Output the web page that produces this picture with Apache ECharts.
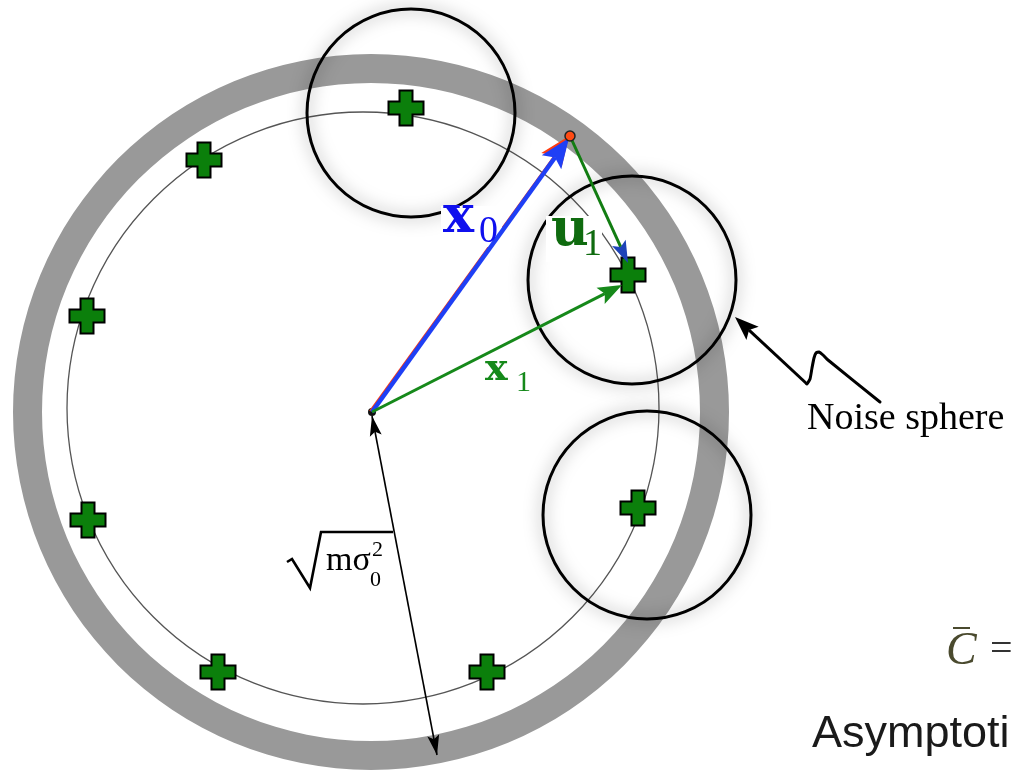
<!DOCTYPE html>
<html>
<head>
<meta charset="utf-8">
<script src="https://cdn.jsdelivr.net/npm/echarts@6/dist/echarts.min.js"></script>
<style>
  html, body { margin: 0; padding: 0; background: #fff; }
  #chart { width: 1012px; height: 773px; }
</style>
</head>
<body>
<div id="chart"></div>
<script>
// Plane with its origin at the transmitted signal point; x to the right, y upward, 1 unit = 1 px.

// Power shell: [cx, cy, inner radius, outer radius]
const powerShell = [[-1, 0, 329, 358]];
// Sphere on which the codewords lie: [cx, cy, r]
const codewordSphere = [[-9, 4, 296]];
// Noise spheres around three codewords: [cx, cy, r]
const noiseSpheres = [[39, 299, 104], [260, 132, 104], [275, -103, 104]];
// Codewords
const codewords = [[34, 304], [-168, 252], [-285, 96], [-284, -108], [-154, -260], [115, -260], [266, -96], [256, 137]];
// Received point
const receivedPoint = [[198, 276]];
// Vectors: [x start, y start, x end, y end]
const x0Vector = [0, 0, 197, 274];
const x0Shadow = [-2, 1, 197, 276];
const x1Vector = [0, 0, 250, 127];
const u1Vector = [198, 276, 256, 149];
const radiusVector = [0, -4, 65, -343];
// Pointer to a noise sphere (polyline with a wiggle)
const pointerPath = [[508, 10], [456, 52], [451, 57], [447, 60], [444, 59], [442, 54], [440, 44], [438, 33], [435, 28], [363, 95]];
// Radical sign of the radius label
const radicalPath = [[-85, -150], [-80, -147], [-62, -176], [-51, -120], [21, -120]];
// Bar over the capacity symbol
const barPath = [[581, -216], [598, -216]];

// Texts drawn on the figure
const labelTexts = ['x', '0', 'u', '1', 'x', '1', 'mσ', '0', '2', 'Noise sphere', 'C', '=', 'Asymptoti'];
// Where each text sits (left edge, vertical middle) and how it is set
const labelLayout = [
  { at: [71, 194],    font: 'bold 52px "DejaVu Serif"', fill: '#1010ee' },
  { at: [107, 180],   font: '38px "Liberation Serif"', fill: '#1010ee' },
  { at: [179, 181],   font: 'bold 52px "DejaVu Serif"', fill: '#0f6b0f' },
  { at: [211, 167],   font: '38px "Liberation Serif"', fill: '#0f6b0f' },
  { at: [113, 42],    font: 'bold 38px "DejaVu Serif"', fill: '#15891a' },
  { at: [144, 29],    font: '30px "Liberation Serif"', fill: '#15891a' },
  { at: [-46, -149],  font: '34px "Liberation Serif"', fill: '#000' },
  { at: [-2, -168.5], font: '22px "Liberation Serif"', fill: '#000' },
  { at: [0, -138.5],  font: '22px "Liberation Serif"', fill: '#000' },
  { at: [435, -7.4],  font: '38px "Liberation Serif"', fill: '#000' },
  { at: [574, -240],  font: 'italic 46px "Liberation Serif"', fill: '#4a4a2e' },
  { at: [618, -238],  font: '40px "Liberation Serif"', fill: '#333' },
  { at: [440, -322.7], font: '45px "Liberation Sans"', fill: '#1a1a1a' }
];
// White patches behind the vector names: [x left, y top, x right, y bottom]
const labelPatches = [[69, 206, 130, 165], [174, 196, 230, 150]];

const chart = echarts.init(document.getElementById('chart'), null, { renderer: 'canvas' });

function arrowParts(p0, p1, headLen, headW, color, lw, headColor) {
  const dx = p1[0] - p0[0], dy = p1[1] - p0[1];
  const L = Math.hypot(dx, dy), ux = dx / L, uy = dy / L;
  const nx = -uy, ny = ux;
  const bx = p1[0] - ux * headLen, by = p1[1] - uy * headLen;
  const notchX = bx + ux * headLen * 0.2, notchY = by + uy * headLen * 0.2;
  return [
    { type: 'line', shape: { x1: p0[0], y1: p0[1], x2: notchX, y2: notchY },
      style: { stroke: color, lineWidth: lw, lineCap: 'butt' } },
    { type: 'polygon', shape: { points: [
        [p1[0], p1[1]],
        [bx + nx * headW / 2, by + ny * headW / 2],
        [notchX, notchY],
        [bx - nx * headW / 2, by - ny * headW / 2]] },
      style: { fill: headColor || color } }
  ];
}

function arrowSeries(vec, o) {
  return {
    type: 'custom', coordinateSystem: 'cartesian2d', silent: true, z: o.z,
    data: [vec], encode: { x: [0, 2], y: [1, 3] },
    renderItem: function (params, api) {
      const p0 = api.coord([api.value(0), api.value(1)]);
      const p1 = api.coord([api.value(2), api.value(3)]);
      let parts = arrowParts(p0, p1, o.headLen, o.headW, o.color, o.lw, o.headColor);
      if (o.both) {
        const back = arrowParts(p1, p0, o.headLen, o.headW, o.color, o.lw, o.headColor);
        parts = [{ type: 'line', shape: { x1: p0[0], y1: p0[1], x2: p1[0], y2: p1[1] },
                   style: { stroke: o.color, lineWidth: o.lw } }, parts[1], back[1]];
      }
      return { type: 'group', children: parts };
    }
  };
}

function circleSeries(data, style, z) {
  return {
    type: 'custom', coordinateSystem: 'cartesian2d', silent: true, z: z,
    data: data, encode: { x: 0, y: 1 },
    renderItem: function (params, api) {
      const c = api.coord([api.value(0), api.value(1)]);
      const r = api.size([api.value(2), 0])[0];
      return { type: 'circle', shape: { cx: c[0], cy: c[1], r: r }, style: style };
    }
  };
}

function pathSeries(points, style, z, smooth) {
  return {
    type: 'custom', coordinateSystem: 'cartesian2d', silent: true, z: z,
    data: [0], encode: {},
    renderItem: function (params, api) {
      return { type: 'polyline', shape: { points: points.map(p => api.coord(p)), smooth: smooth || 0 }, style: style };
    }
  };
}

const series = [
  // power shell ring
  {
    type: 'custom', coordinateSystem: 'cartesian2d', silent: true, z: 1,
    data: powerShell, encode: { x: 0, y: 1 },
    renderItem: function (params, api) {
      const c = api.coord([api.value(0), api.value(1)]);
      const r0 = api.size([api.value(2), 0])[0];
      const r = api.size([api.value(3), 0])[0];
      return { type: 'ring', shape: { cx: c[0], cy: c[1], r: r, r0: r0 }, style: { fill: '#999999' } };
    }
  },
  circleSeries(codewordSphere, { fill: 'none', stroke: '#555', lineWidth: 1.3 }, 2),
  circleSeries(noiseSpheres, { fill: 'none', stroke: '#000', lineWidth: 3,
    shadowBlur: 16, shadowColor: 'rgba(0,0,0,0.5)' }, 3),
  // codewords
  {
    type: 'scatter', z: 4, silent: true,
    data: codewords,
    symbol: 'path://M11,0 H24 V11 H35 V24 H24 V35 H11 V24 H0 V11 H11 Z',
    symbolSize: 35,
    itemStyle: { color: '#0b7f0b', borderColor: '#000', borderWidth: 2, opacity: 1 }
  },
  // origin dot
  circleSeries([[0, 0, 4]], { fill: '#111' }, 5),
  arrowSeries(x0Shadow, { color: '#ff3a10', lw: 2, headLen: 30, headW: 25, z: 6 }),
  // white patches under vector names
  {
    type: 'custom', coordinateSystem: 'cartesian2d', silent: true, z: 7,
    data: labelPatches, encode: { x: [0, 2], y: [1, 3] },
    renderItem: function (params, api) {
      const a = api.coord([api.value(0), api.value(1)]);
      const b = api.coord([api.value(2), api.value(3)]);
      return { type: 'rect', shape: { x: a[0], y: a[1], width: b[0] - a[0], height: b[1] - a[1] },
               style: { fill: '#fff' } };
    }
  },
  arrowSeries(x0Vector, { color: '#1f3ff5', lw: 4.5, headLen: 30, headW: 24, z: 8 }),
  arrowSeries(x1Vector, { color: '#16891a', lw: 3, headLen: 24, headW: 18, z: 8 }),
  arrowSeries(u1Vector, { color: '#127d12', lw: 3, headLen: 22, headW: 15, headColor: '#1d43b8', z: 8 }),
  arrowSeries(radiusVector, { color: '#000', lw: 1.6, headLen: 20, headW: 12, both: true, z: 8 }),
  circleSeries(receivedPoint.map(p => [p[0], p[1], 5]), { fill: '#ff4b14', stroke: '#222', lineWidth: 1.5 }, 9),
  // pointer to a noise sphere
  pathSeries(pointerPath.slice(0, pointerPath.length - 1), { stroke: '#000', lineWidth: 3, fill: 'none', lineJoin: 'round', lineCap: 'round' }, 8, 0.2),
  arrowSeries([pointerPath[8][0], pointerPath[8][1], pointerPath[9][0], pointerPath[9][1]],
    { color: '#000', lw: 3, headLen: 24, headW: 18, z: 8 }),
  // radical sign and bar
  pathSeries(radicalPath, { stroke: '#000', lineWidth: 2.6, fill: 'none', lineJoin: 'miter' }, 8),
  pathSeries(barPath, { stroke: '#4a4a2e', lineWidth: 2, fill: 'none' }, 8),
  // texts
  {
    type: 'custom', coordinateSystem: 'cartesian2d', silent: true, z: 10,
    data: labelLayout.map((l, i) => [l.at[0], l.at[1], i]), encode: { x: 0, y: 1 },
    renderItem: function (params, api) {
      const i = api.value(2);
      const p = api.coord([api.value(0), api.value(1)]);
      const l = labelLayout[i];
      return { type: 'text', x: p[0], y: p[1],
        style: { text: labelTexts[i], font: l.font, fill: l.fill, align: 'left', verticalAlign: 'middle' } };
    }
  }
];

chart.setOption({
  animation: false,
  backgroundColor: '#ffffff',
  grid: { left: 0, right: 0, top: 0, bottom: 0 },
  xAxis: { type: 'value', min: -372, max: 640, show: false },
  yAxis: { type: 'value', min: -361, max: 412, show: false },
  series: series
});
</script>
</body>
</html>
